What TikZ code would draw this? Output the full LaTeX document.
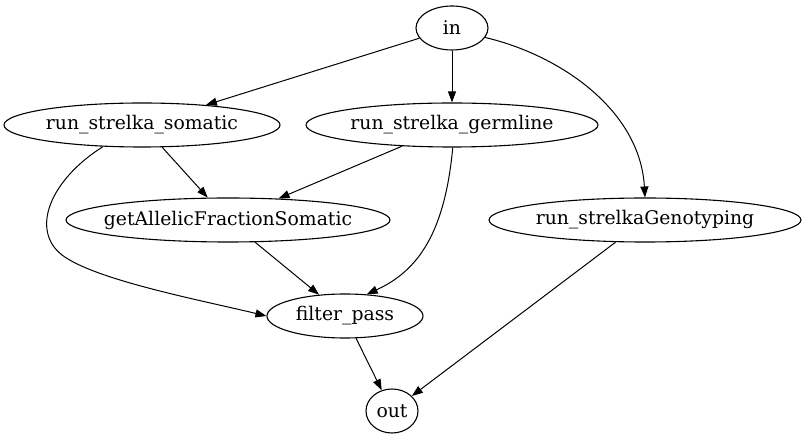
\documentclass[tikz,border=0pt]{standalone}
\usepackage{fontspec}
\setmainfont{DejaVu Serif}
\usetikzlibrary{arrows.meta,shapes.geometric}
\newcommand{\vlabel}[1]{\makebox[0pt]{#1}}

\begin{document}
\begin{tikzpicture}[x=1pt,y=-1pt]
	\tikzset{vertex/.style = {draw,ellipse,inner sep=0pt,minimum height=44pt,line width=1.1pt,font=\fontsize{18.8}{21}\selectfont}}
	\tikzset{edge/.style = {-{Triangle[length=11pt,width=8pt]},line width=1pt}}
	\useasboundingbox (0,0) rectangle (807,443);

	% vertices
	\node[vertex,minimum width=72pt] (in) at (452,28) {\vlabel{in}};
	\node[vertex,minimum width=276pt] (som) at (142,125) {\vlabel{run\_strelka\_somatic}};
	\node[vertex,minimum width=292pt] (germ) at (452,125) {\vlabel{run\_strelka\_germline}};
	\node[vertex,minimum width=324pt] (frac) at (228,220) {\vlabel{getAllelicFractionSomatic}};
	\node[vertex,minimum width=312pt] (geno) at (645,220) {\vlabel{run\_strelkaGenotyping}};
	\node[vertex,minimum width=156pt] (filt) at (345,316) {\vlabel{filter\_pass}};
	\node[vertex,minimum width=52pt] (out) at (392,411) {\vlabel{out}};

	% edges
	\draw[edge] (in) to (som);
	\draw[edge] (in) to (germ);
	\draw[edge] (in.344) .. controls (560,55) and (640,110) .. (geno.north);
	\draw[edge] (som) to (frac);
	\draw[edge] (som.209) .. controls (50,180) and (30,230) .. (62,255) .. controls (95,280) and (200,300) .. (filt.west);
	\draw[edge] (germ) to (frac);
	\draw[edge] (germ.272) .. controls (445,230) and (420,270) .. (filt.45);
	\draw[edge] (frac) to (filt);
	\draw[edge] (filt) to (out);
	\draw[edge] (geno) to (out);
\end{tikzpicture}
\end{document}
